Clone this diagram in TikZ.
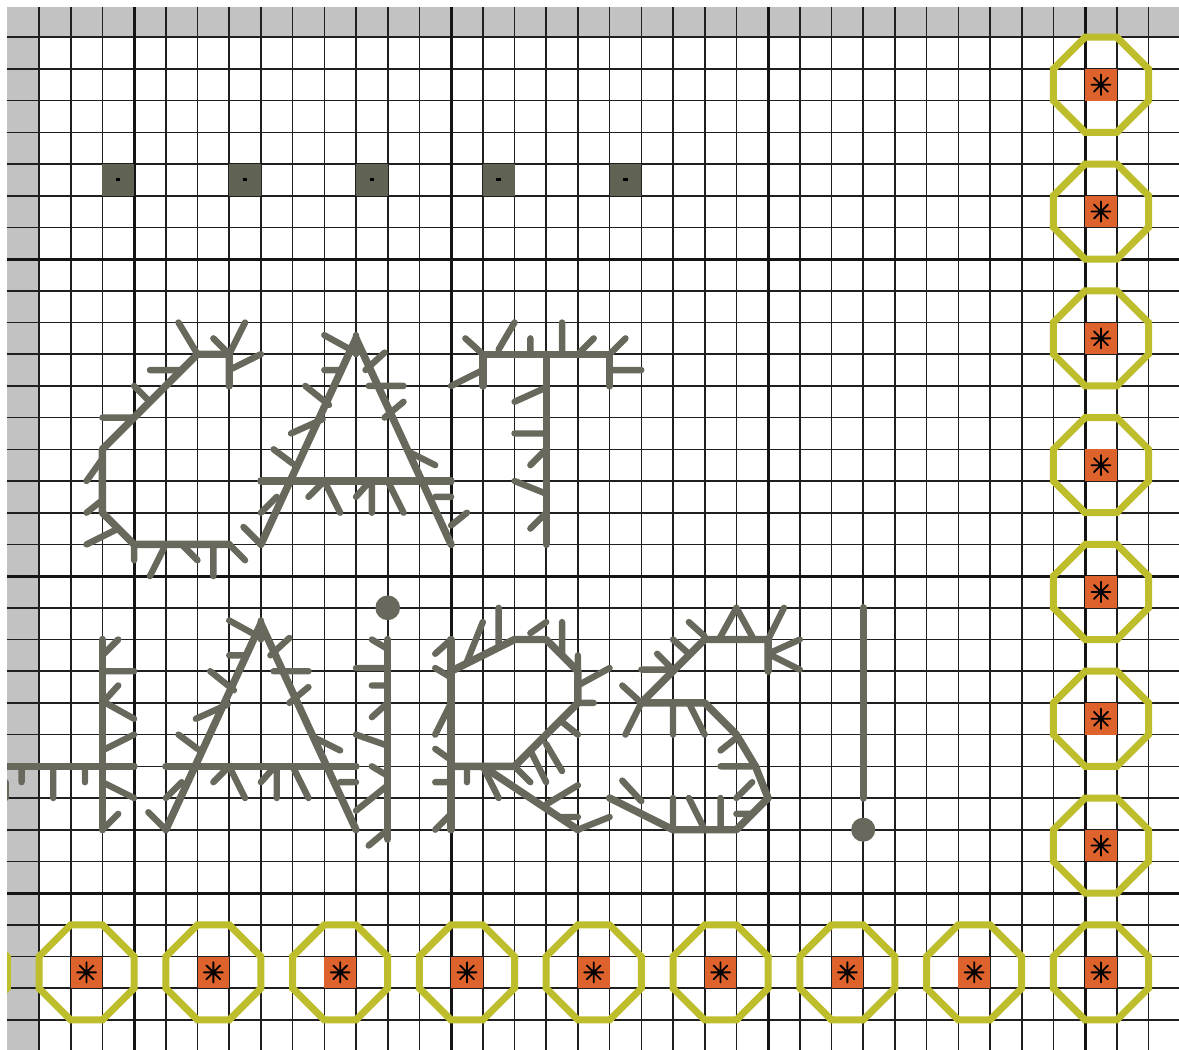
\documentclass[tikz,border=0pt]{standalone}
\definecolor{hairc}{RGB}{104,104,92}
\definecolor{octc}{RGB}{190,190,45}
\definecolor{orc}{RGB}{222,98,44}
\definecolor{stripc}{RGB}{194,194,194}
\definecolor{dsq}{RGB}{96,98,84}
\tikzset{
  gthin/.style={line width=1.6pt, draw=black!88},
  gthick/.style={line width=3pt, draw=black!92},
  hair/.style={line width=7.4pt, draw=hairc, line cap=round, line join=round},
  hairtk/.style={line width=6.4pt, draw=hairc, line cap=round},
  octline/.style={line width=7pt, draw=octc, line join=miter},
  astk/.style={line width=1.8pt, draw=black, line cap=round},
}
\begin{document}
\begin{tikzpicture}[x=1pt,y=-1pt]
\useasboundingbox (0,0) rectangle (1179,1050);
\fill[white] (0,0) rectangle (1179,1050);
\begin{scope}
\clip (7,7) rectangle (1179,1050);
\fill[stripc] (7,7) rectangle (1179,37.2);
\fill[stripc] (7,7) rectangle (39,1050);
\begin{scope}[shift={(39,37.2)}, x=31.7pt, y=-31.7pt]
% grid
\foreach \i in {0,...,36} \draw[gthin] (\i,-1.2) -- (\i,32.3);
\foreach \j in {0,...,32} \draw[gthin] (-1.2,\j) -- (36.3,\j);
\foreach \i in {3,13,23,33} \draw[gthick] (\i,-1.2) -- (\i,32.3);
\foreach \j in {7,17,27} \draw[gthick] (-1.2,\j) -- (36.3,\j);
% dark squares
\foreach \c in {2,6,10,14,18} {
  \fill[dsq] (\c,4) rectangle (\c+1,5);
  \fill[black] (\c+0.43,4.45) rectangle (\c+0.57,4.55);
}
% octagons
\foreach \c/\r in {33.5/1.5,33.5/5.5,33.5/9.5,33.5/13.5,33.5/17.5,33.5/21.5,33.5/25.5,33.5/29.5,
                   1.5/29.5,5.5/29.5,9.5/29.5,13.5/29.5,17.5/29.5,21.5/29.5,25.5/29.5,29.5/29.5,-2.5/29.5} {
  \fill[orc] (\c-0.5,\r-0.5) rectangle (\c+0.5,\r+0.5);
  \draw[astk] (\c-0.3,\r) -- (\c+0.3,\r) (\c,\r-0.32) -- (\c,\r+0.32)
              (\c-0.22,\r-0.22) -- (\c+0.22,\r+0.22) (\c-0.22,\r+0.22) -- (\c+0.22,\r-0.22);
  \draw[octline] (\c-0.5,\r-1.5) -- (\c+0.5,\r-1.5) -- (\c+1.5,\r-0.5) -- (\c+1.5,\r+0.5)
     -- (\c+0.5,\r+1.5) -- (\c-0.5,\r+1.5) -- (\c-1.5,\r+0.5) -- (\c-1.5,\r-0.5) -- cycle;
}
% ---------- C ----------
\draw[hair] (6,11) -- (6,10) -- (5,10) -- (2,13) -- (2,15) -- (3,16) -- (6,16);
\draw[hairtk] (4.4,9) -- (5,10)  (6.5,9) -- (6,10)  (5.5,9.5) -- (6,10)  (7,10) -- (6,10.5)
  (3.5,10.5) -- (4.5,10.5)  (3,11) -- (3.5,11.5)  (2,12) -- (3,12)  (1.5,14) -- (2,13.3)
  (1.5,15) -- (2,14.6)  (1.5,16) -- (2.5,15.5)  (3,16) -- (3,16.5)  (3.5,17) -- (3.95,16.1)
  (4.5,16) -- (5,16.5)  (5.5,16) -- (5.5,17)  (6,16) -- (6.5,16.5);
% ---------- two A ----------
\foreach \dx/\dy in {0/0,-3/9} {
\begin{scope}[shift={(\dx,\dy)}]
\draw[hair] (7,16) -- (10,9.5) -- (13,16);
\draw[hair] (7,14) -- (13,14);
\draw[hairtk] (9,9.4) -- (10,9.95)  (10,9.4) -- (10,10)  (10.9,9.95) -- (10.3,10.5)
  (9,10.5) -- (9.5,10.5)  (10.4,11) -- (11.5,11)  (8.4,11) -- (9.15,11.6)
  (11.5,11.5) -- (10.9,12)  (7.95,12.5) -- (8.95,12.05)  (7.4,13) -- (8,13.45)
  (11.7,13.1) -- (12.5,13.5)  (8.5,14.5) -- (9,14)  (9,14) -- (9.5,15)
  (10,14.5) -- (10.4,14.05)  (10.5,14) -- (10.5,15)  (11,14) -- (11.5,15)
  (12.5,14.5) -- (13,14.5)  (13.5,15) -- (13,15.4)  (7,15) -- (7.5,14.5)
  (6.45,15.45) -- (7,16);
\end{scope}}
% ---------- T ----------
\draw[hair] (14,11) -- (14,10) -- (18,10) -- (18,11);
\draw[hair] (16,10) -- (16,16);
\draw[hairtk] (13.45,9.5) -- (14,10)  (15,9) -- (14.5,9.85)  (15.5,9.5) -- (15.5,10)
  (16.5,9) -- (16.5,10)  (17.5,9.5) -- (17,10)  (18.5,9.5) -- (18,10)  (18,10.5) -- (19,10.5)
  (13,11) -- (14,10.5)  (15,11.5) -- (16,11.05)  (15,12.5) -- (16,12.5)  (15.5,13.5) -- (16,13)
  (15,14) -- (16,14.4)  (15.5,15.5) -- (16,15);
% ---------- H (partial) ----------
\draw[hair] (-1.6,23) -- (3,23);
\draw[hair] (2,19) -- (2,25);
\draw[hairtk] (-0.55,23) -- (-0.55,23.5)  (0.45,23) -- (0.45,24)  (1.45,23) -- (1.45,23.5)
  (-1.05,23.5) -- (-1.05,24)  (2,19.5) -- (2.5,19)  (2,20) -- (3,20)  (2,21) -- (2.5,20.45)
  (2.1,21) -- (3,21.5)  (2,22.5) -- (3,22)  (2,23.5) -- (3,24)  (2,25) -- (2.5,24.5);
% ---------- i ----------
\fill[hairc] (11,18) circle [radius=0.39];
\draw[hair] (11,19) -- (11,25.3);
\draw[hairtk] (10.5,19) -- (11,19.3)  (10,19.9) -- (11,19.9)  (10.5,20.45) -- (11,20.45)
  (10.5,21.45) -- (11,21)  (10,22) -- (11,22.35)  (10.5,23) -- (11,23.3)
  (10.5,24) -- (11,23.6)  (10.4,25.5) -- (11,25);
% ---------- R ----------
\draw[hair] (13,19) -- (13,25);
\draw[hair] (13,20) -- (15,19) -- (16,19) -- (17,20) -- (17,21) -- (15,23) -- (13,23);
\draw[hair] (14,23) -- (17,25);
\draw[hairtk] (12.5,19.45) -- (13,19)  (13.5,19.7) -- (14,18.45)  (14.5,19.2) -- (14.5,18)
  (15.5,18.8) -- (16,18.45)  (16.5,19.5) -- (16.5,18.45)  (17,19.5) -- (17,20)
  (17,20.45) -- (18,19.9)  (17,21) -- (17.5,21)  (12.5,19.9) -- (13,20.2)
  (12.5,22) -- (13,21)  (12.5,22.45) -- (13,22.8)  (12.5,23.5) -- (13,23.5)
  (12.5,25) -- (13,24.5)  (13.5,23) -- (13.5,23.5)  (14,23) -- (14.5,24)
  (16.5,21.6) -- (17,22)  (16,22.3) -- (16.5,23.15)  (15.5,22.5) -- (16,23.5)
  (15,23) -- (15.5,23.5)  (16,24.2) -- (17,23.6)  (16.5,24.6) -- (17,24.6)
  (17,25) -- (18,24.6);
% ---------- S ----------
\draw[hair] (23,20) -- (23,19) -- (21,19) -- (19,21) -- (21,21) -- (22,22) -- (22.6,23) -- (23,24)
  -- (22,25) -- (20,25) -- (18,24);
\draw[hairtk] (21.45,19) -- (22,18)  (22,18) -- (22.55,19)  (23,19) -- (23.5,18)
  (23,19.45) -- (24,19)  (23,19.45) -- (24,19.95)  (20.5,18.45) -- (21,18.9)
  (20,19) -- (20.5,19.45)  (19.5,19.45) -- (20,19.95)  (19,19.95) -- (20,19.95)
  (18.4,20.45) -- (19,21)  (19,21) -- (18.5,22)  (20,21) -- (20,22)  (20.5,21) -- (21,22)
  (21.5,22.5) -- (22,22.1)  (21.5,23) -- (22.5,23)  (22,24) -- (22.5,23.5)
  (22,24.5) -- (22.5,24.5)  (21.5,25) -- (21.5,24)  (21,25) -- (20.5,24)  (20,25) -- (20,24)
  (18.4,23.45) -- (19,24.1);
% ---------- ! ----------
\draw[hair] (26,18) -- (26,24);
\fill[hairc] (26,25) circle [radius=0.38];
\end{scope}
\end{scope}
\end{tikzpicture}
\end{document}
